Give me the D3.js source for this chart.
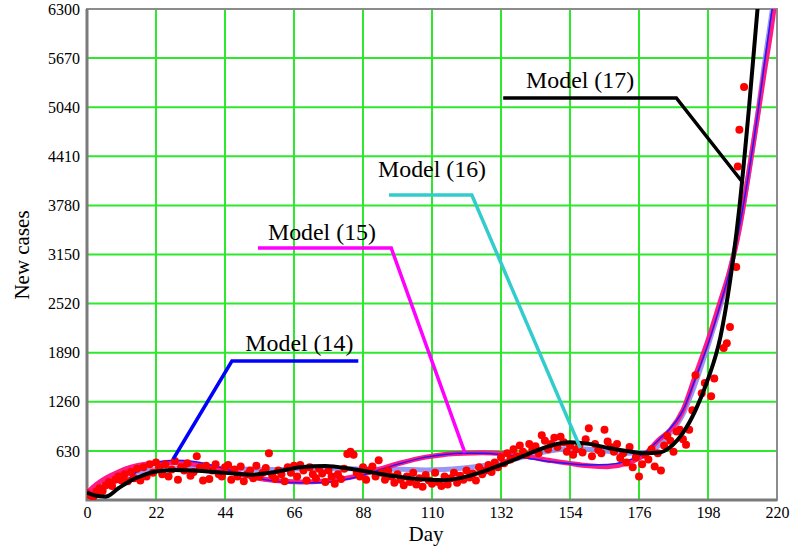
<!DOCTYPE html>
<html lang="en">
<head>
<meta charset="UTF-8">
<script src="https://d3js.org/d3.v7.min.js"></script>
<title>New cases</title>
<style>
  body { margin: 0; background: #fff; }
  text { font-family: "Liberation Serif", "Times New Roman", serif; }
</style>
</head>
<body>
<div id="chart"></div>
<script>
// tick values
const dayTicks = d3.range(0, 221, 22);
const caseTicks = d3.range(630, 6301, 630);

// observed daily cases [day, cases]
const observed = [
  [0,90],[1,60],[2,40],[3,110],[4,150],[5,120],[6,190],[7,230],[8,180],[9,260],
  [10,300],[11,250],[12,330],[13,240],[14,360],[15,280],[16,400],[17,250],[18,420],[19,300],
  [20,460],[21,350],[22,480],[23,420],[24,330],[25,460],[26,300],[27,390],[28,500],[29,260],
  [30,420],[31,380],[32,470],[33,310],[34,360],[35,560],[36,420],[37,250],[38,440],[39,270],
  [40,380],[41,460],[42,330],[43,300],[44,420],[45,450],[46,260],[47,390],[48,300],[49,430],
  [50,240],[51,330],[52,380],[53,280],[54,440],[55,300],[56,350],[57,410],[58,600],[59,320],
  [60,270],[61,380],[62,330],[63,240],[64,420],[65,350],[66,440],[67,300],[68,450],[69,380],
  [70,250],[71,420],[72,330],[73,280],[74,400],[75,340],[76,230],[77,380],[78,300],[79,210],
  [80,330],[81,270],[82,400],[83,590],[84,620],[85,580],[86,350],[87,300],[88,420],[89,260],
  [90,380],[91,430],[92,300],[93,510],[94,350],[95,260],[96,380],[97,300],[98,220],[99,330],
  [100,260],[101,190],[102,300],[103,230],[104,350],[105,200],[106,280],[107,170],[108,320],[109,250],
  [110,210],[111,350],[112,230],[113,180],[114,300],[115,200],[116,280],[117,350],[118,220],[119,310],
  [120,260],[121,380],[122,290],[123,340],[124,250],[125,420],[126,330],[127,380],[128,450],[129,360],
  [130,480],[131,420],[132,550],[133,470],[134,600],[135,520],[136,650],[137,560],[138,700],[139,620],
  [140,580],[141,720],[142,650],[143,690],[144,600],[145,830],[146,760],[147,650],[148,720],[149,800],
  [150,680],[151,810],[152,740],[153,620],[154,700],[155,580],[156,650],[157,700],[158,610],[159,780],
  [160,920],[161,560],[162,720],[163,640],[164,600],[165,900],[166,750],[167,680],[168,620],[169,720],
  [170,540],[171,600],[172,480],[173,680],[174,420],[175,550],[176,300],[177,460],[178,580],[179,520],
  [180,650],[181,430],[182,600],[183,380],[184,700],[185,820],[186,760],[187,620],[188,880],[189,900],
  [190,780],[191,710],[192,900],[193,1150],[194,1600],[196,1370],[197,1500],[199,1330],[200,1560],
  [203,1950],[204,2010],[205,2220],[207,2990],[207.5,4280],[208,4750],[209.5,5300]
];

// fitted models, sampled on the same days
const modelDays = [0,3,6,10,14,18,22,28,34,44,52,60,68,76,84,92,100,108,114,120,126,132,
  140,148,154,160,166,172,178,182,186,190,194,198,202,205,208,211,214,216,218,220];
const model14 = [80,40,30,150,300,420,480,510,495,400,300,240,220,225,275,370,470,550,585,600,600,585,
  540,490,465,450,455,500,610,760,920,1150,1560,2000,2520,2950,3500,4200,5000,5600,6180,6700];
const model15 = [90,200,280,360,420,455,470,478,460,390,300,250,232,245,290,380,475,550,585,600,605,598,
  560,505,470,440,428,470,590,760,900,1150,1600,2050,2560,2950,3480,4200,4970,5500,6000,6600];
const model16 = [100,170,230,290,340,370,390,405,410,405,395,390,400,405,400,395,395,385,390,410,440,480,
  560,630,660,650,625,600,610,690,860,1100,1500,1980,2500,2950,3500,4200,5000,5600,6150,6700];
const model17 = [95,55,45,150,250,320,365,385,378,348,325,360,420,436,400,345,295,262,255,290,360,450,
  580,700,740,720,670,630,600,605,680,860,1150,1550,2100,2800,3750,5000,6400,7300,8300,9400];

// callout labels: label anchor, then leader polyline in data units
const callouts = [
  {name: "Model (14)", color: "#0000ff", text: [50.5, 1910], pts: [[86.5, 1783], [46.2, 1783], [27.5, 526]]},
  {name: "Model (15)", color: "#ff00ff", text: [57.7, 3330], pts: [[54.5, 3233], [97, 3233], [120.5, 605]]},
  {name: "Model (16)", color: "#33cccc", text: [92.8, 4150], pts: [[96.3, 3913], [122.7, 3913], [157.3, 667]]},
  {name: "Model (17)", color: "#000000", text: [140, 5280], pts: [[132.7, 5158], [187.9, 5158], [209.2, 4067]]}
];

const width = 790;
const height = 551;
const margin = {left: 87, right: 13, top: 9, bottom: 51};

const svg = d3.select("#chart").append("svg")
  .attr("width", width)
  .attr("height", height);

const x = d3.scaleLinear().domain([0, 220]).range([margin.left, width - margin.right]);
const y = d3.scaleLinear().domain([0, 6300]).range([height - margin.bottom, margin.top]);

svg.append("clipPath").attr("id", "plot")
  .append("rect")
  .attr("x", x(0)).attr("y", y(6300))
  .attr("width", x(220) - x(0)).attr("height", y(0) - y(6300));

// grid
const grid = svg.append("g").attr("stroke", "#2ee82e").attr("stroke-width", 2);
grid.selectAll(".gx").data(dayTicks).enter().append("line")
  .attr("x1", d => x(d)).attr("x2", d => x(d))
  .attr("y1", y(0)).attr("y2", y(6300));
grid.selectAll(".gy").data(caseTicks).enter().append("line")
  .attr("x1", x(0)).attr("x2", x(220))
  .attr("y1", d => y(d)).attr("y2", d => y(d));

// frame
svg.append("rect")
  .attr("x", x(0)).attr("y", y(6300))
  .attr("width", x(220) - x(0)).attr("height", y(0) - y(6300))
  .attr("fill", "none").attr("stroke", "#8c8c8c").attr("stroke-width", 2);
svg.append("path")
  .attr("d", `M${x(0)},${y(6300)}V${y(0)}H${x(220)}`)
  .attr("fill", "none").attr("stroke", "#7a7a7a").attr("stroke-width", 3);

// axes
const xAxis = svg.append("g")
  .attr("transform", `translate(0,${y(0)})`)
  .call(d3.axisBottom(x).tickValues(dayTicks).tickFormat(d3.format("d")).tickSize(0).tickPadding(7));
const yAxis = svg.append("g")
  .attr("transform", `translate(${x(0)},0)`)
  .call(d3.axisLeft(y).tickValues(caseTicks).tickFormat(d3.format("d")).tickSize(0).tickPadding(7));
[xAxis, yAxis].forEach(g => {
  g.select(".domain").remove();
  g.selectAll("text")
    .style("font-family", "'Liberation Serif', serif")
    .style("font-size", "16px")
    .attr("fill", "#000");
});

svg.append("text")
  .attr("x", 426).attr("y", 541)
  .attr("text-anchor", "middle")
  .style("font-size", "21px")
  .text("Day");
svg.append("text")
  .attr("transform", "translate(29,255) rotate(-90)")
  .attr("text-anchor", "middle")
  .style("font-size", "21px")
  .text("New cases");

// models and observations
const plot = svg.append("g").attr("clip-path", "url(#plot)");
const line = d3.line()
  .x((d, i) => x(modelDays[i]))
  .y(d => y(d))
  .curve(d3.curveMonotoneX);

plot.append("path").datum(model16).attr("d", line)
  .attr("fill", "none").attr("stroke", "#8c8cf5").attr("stroke-width", 5).attr("opacity", 0.9);
plot.append("path").datum(model15).attr("d", line)
  .attr("fill", "none").attr("stroke", "#ff1a86").attr("stroke-width", 5);
plot.append("path").datum(model14).attr("d", line)
  .attr("fill", "none").attr("stroke", "#1a1aff").attr("stroke-width", 1.5);

plot.selectAll("circle").data(observed).enter().append("circle")
  .attr("cx", d => x(d[0]))
  .attr("cy", d => y(d[1]))
  .attr("r", 4)
  .attr("fill", "#ff0000");

plot.append("path").datum(model17).attr("d", line)
  .attr("fill", "none").attr("stroke", "#000").attr("stroke-width", 4);

// callouts
const lead = d3.line().x(d => x(d[0])).y(d => y(d[1]));
callouts.forEach(c => {
  svg.append("path").datum(c.pts).attr("d", lead)
    .attr("fill", "none").attr("stroke", c.color).attr("stroke-width", 3.5);
  svg.append("text")
    .attr("x", x(c.text[0])).attr("y", y(c.text[1]))
    .style("font-size", "23px")
    .attr("textLength", 108)
    .attr("lengthAdjust", "spacingAndGlyphs")
    .text(c.name);
});
</script>
</body>
</html>
